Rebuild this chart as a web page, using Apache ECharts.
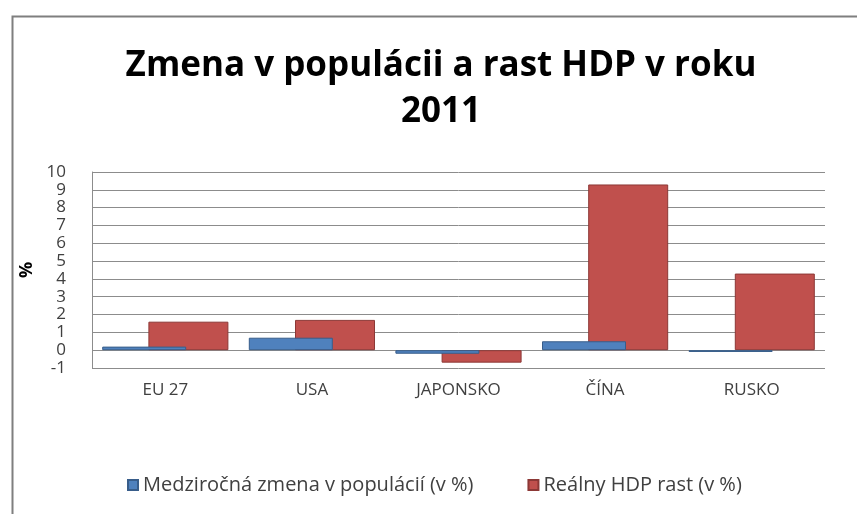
<!DOCTYPE html>
<html><head><meta charset="utf-8">
<script src="https://cdn.jsdelivr.net/npm/echarts@6/dist/echarts.min.js"></script>
<style>html,body{margin:0;padding:0;background:#fff}#c{width:857px;height:514px}</style>
</head><body><div id="c"></div>
<script>
const titleText = 'Zmena v populácii a rast HDP v roku\n2011';
const categories = ['EU 27', 'USA', 'JAPONSKO', 'ČÍNA', 'RUSKO'];
const seriesNames = ['Medziročná zmena v populácií (v %)', 'Reálny HDP rast (v %)'];
const populationChange = [0.2, 0.7, -0.2, 0.5, -0.1];
const gdpGrowth = [1.6, 1.7, -0.7, 9.3, 4.3];
const yMin = -1, yMax = 10, yStep = 1;

const chart = echarts.init(document.getElementById('c'), null, {renderer: 'canvas'});
chart.setOption({
  animation: false,
  backgroundColor: '#fff',
  textStyle: {fontFamily: 'Open Sans'},
  graphic: [{
    type: 'rect', left: 10, top: 14, shape: {width: 900, height: 600},
    style: {fill: 'none', stroke: '#7f7f7f', lineWidth: 2}, silent: true
  }],
  title: {
    text: titleText, left: 436, textAlign: 'center', top: 38,
    textStyle: {fontFamily: 'Open Sans', fontWeight: 'bold', fontSize: 35, lineHeight: 46, color: '#000'}
  },
  legend: {
    bottom: 14, left: 122, itemGap: 54, itemWidth: 10, itemHeight: 10,
    icon: 'rect',
    textStyle: {fontFamily: 'Open Sans', fontSize: 20, color: '#404040'},
    data: seriesNames
  },
  grid: {left: 92, right: 32, top: 172, bottom: 146, containLabel: false},
  xAxis: {
    type: 'category', data: categories,
    axisLine: {show: false}, axisTick: {show: false},
    axisLabel: {fontFamily: 'Open Sans', fontSize: 17, color: '#404040', margin: 14}
  },
  yAxis: {
    type: 'value', min: yMin, max: yMax, interval: yStep,
    name: '%', nameLocation: 'middle', nameGap: 48, nameRotate: 90,
    nameTextStyle: {fontFamily: 'Open Sans', fontWeight: 'bold', fontSize: 18, color: '#000'},
    axisLine: {show: true, lineStyle: {color: '#8c8c8c'}}, axisTick: {show: false},
    axisLabel: {fontFamily: 'Open Sans', fontSize: 17, color: '#404040', margin: 26, lineHeight: 12,
                showMinLabel: true, showMaxLabel: true, hideOverlap: false},
    splitLine: {lineStyle: {color: '#8c8c8c', width: 1}}
  },
  series: [
    {name: seriesNames[0], type: 'bar', data: populationChange, barWidth: 84, barGap: '-45%', z: 3,
     itemStyle: {color: '#4F81BD', borderColor: '#385d8a', borderWidth: 1}},
    {name: seriesNames[1], type: 'bar', data: gdpGrowth, barWidth: 80, z: 2,
     itemStyle: {color: '#C0504D', borderColor: '#8c3836', borderWidth: 1}}
  ]
});
</script></body></html>
